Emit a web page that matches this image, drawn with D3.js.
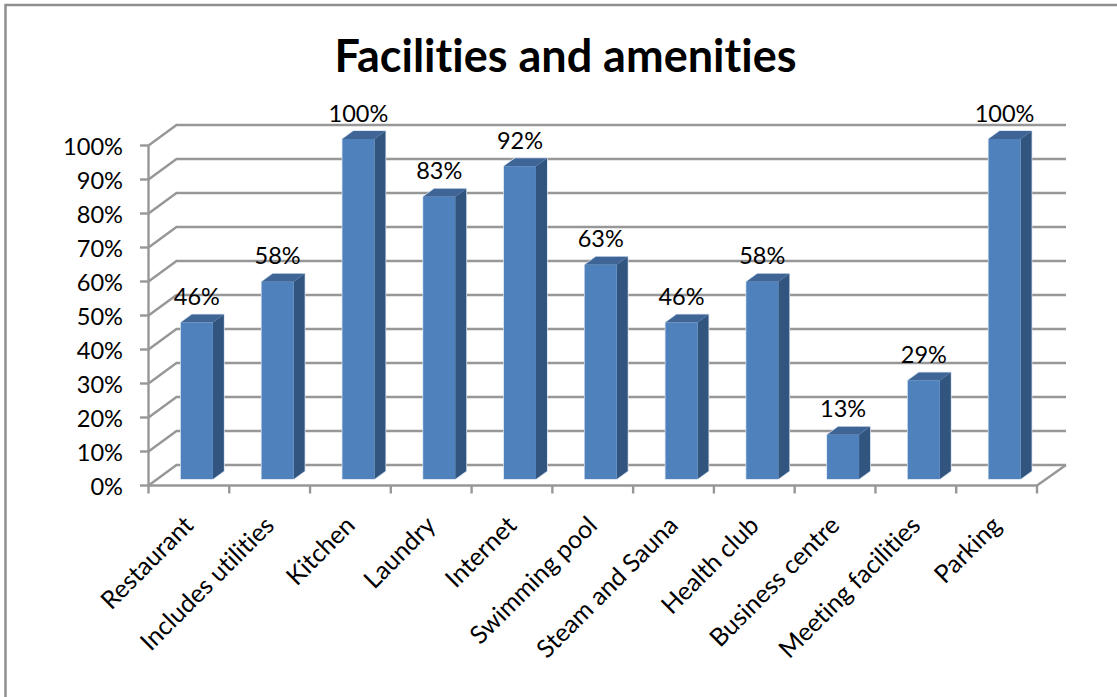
<!DOCTYPE html>
<html>
<head>
<meta charset="utf-8">
<script src="https://cdn.jsdelivr.net/npm/d3@7/dist/d3.min.js"></script>
<style>
html,body{margin:0;padding:0;background:#fff}
svg{display:block}
text{font-family:Lato,"Open Sans",sans-serif;fill:#000;font-variant-ligatures:none}
</style>
</head>
<body>
<svg id="chart" width="1117" height="697"></svg>
<script>
const categories = ["Restaurant","Includes utilities","Kitchen","Laundry","Internet","Swimming pool","Steam and Sauna","Health club","Business centre","Meeting facilities","Parking"];
const values = [46,58,100,83,92,63,46,58,13,29,100];
const tickValues = [0,10,20,30,40,50,60,70,80,90,100];
const chartTitle = "Facilities and amenities";

const svg = d3.select("#chart");
const gridColor = "#979797";
const depth = {dx:28, dy:-20.5};
const barDepth = {dx:11, dy:-8};
const barOffsetY = -6.5;
const halo = "#d3dfee";

const x = d3.scaleBand().domain(categories).range([148.5,1037]).paddingInner(0).paddingOuter(0);
const y = d3.scaleLinear().domain([0,100]).range([485.5,145.5]);

// frame
svg.append("path").attr("d","M5.5,697V5H1117").attr("fill","none").attr("stroke","#8f8f8f").attr("stroke-width",2.5);

svg.append("text").attr("x",565.5).attr("y",71.5).attr("text-anchor","middle")
  .attr("font-size",45).attr("font-weight",700).text(chartTitle);

// gridlines
const grid = svg.append("g").attr("fill","none").attr("stroke",gridColor).attr("stroke-width",2.4);
tickValues.forEach(t=>{
  grid.append("path").attr("d",`M${x.range()[0]},${y(t)}l${depth.dx},${depth.dy}H${x.range()[1]+depth.dx+1}`);
  grid.append("line").attr("x1",140).attr("x2",x.range()[0]).attr("y1",y(t)).attr("y2",y(t));
});
grid.append("line").attr("x1",x.range()[0]).attr("x2",x.range()[0]).attr("y1",y(100)).attr("y2",y(0));
grid.append("line").attr("x1",x.range()[0]).attr("x2",x.range()[1]).attr("y1",y(0)).attr("y2",y(0));
grid.append("line").attr("x1",x.range()[1]).attr("x2",x.range()[1]+depth.dx+1).attr("y1",y(0)).attr("y2",y(0)+depth.dy);
[...categories.map(c=>x(c)), x.range()[1]].forEach(px=>{
  grid.append("line").attr("x1",px).attr("x2",px).attr("y1",y(0)).attr("y2",y(0)+8);
});

// y labels
svg.append("g").selectAll("text").data(tickValues).join("text")
  .attr("x",123).attr("y",d=>y(d)+9.5).attr("text-anchor","end").attr("font-size",23.6)
  .text(d=>d+"%");

// bars
const bw = 32, inset = (x.bandwidth()-bw)/2 + 8;
const bars = svg.append("g").selectAll("g").data(categories.map((c,i)=>({c,v:values[i]}))).join("g");
bars.each(function(d){
  const g = d3.select(this);
  const l = x(d.c)+inset, t = y(d.v)+barOffsetY, b = y(0)+barOffsetY;
  // pale outline sits behind the three faces, so no seams show between them
  g.append("path").attr("fill",halo).attr("stroke",halo).attr("stroke-width",1.5)
    .attr("d",`M${l},${t}l${barDepth.dx},${barDepth.dy}h${bw}V${b+barDepth.dy}l${-barDepth.dx},${-barDepth.dy}H${l}Z`);
  g.append("path").attr("fill","#325580")
    .attr("d",`M${l+bw},${t}l${barDepth.dx},${barDepth.dy}V${b+barDepth.dy}l${-barDepth.dx},${-barDepth.dy}Z`);
  g.append("path").attr("fill","#3e6596")
    .attr("d",`M${l},${t}l${barDepth.dx},${barDepth.dy}h${bw}l${-barDepth.dx},${-barDepth.dy}Z`);
  g.append("rect").attr("x",l).attr("y",t).attr("width",bw).attr("height",b-t).attr("fill","#4f81bd");
  g.append("text").attr("x",l+bw/2).attr("y",t-17.5).attr("text-anchor","middle").attr("font-size",23.5).text(d.v+"%");
});

// category labels
svg.append("g").selectAll("text").data(categories).join("text")
  .attr("text-anchor","end").attr("font-size",25)
  .attr("transform",d=>`translate(${x(d)+x.bandwidth()/2+6},${527}) rotate(-45)`)
  .text(d=>d);
</script>
</body>
</html>
